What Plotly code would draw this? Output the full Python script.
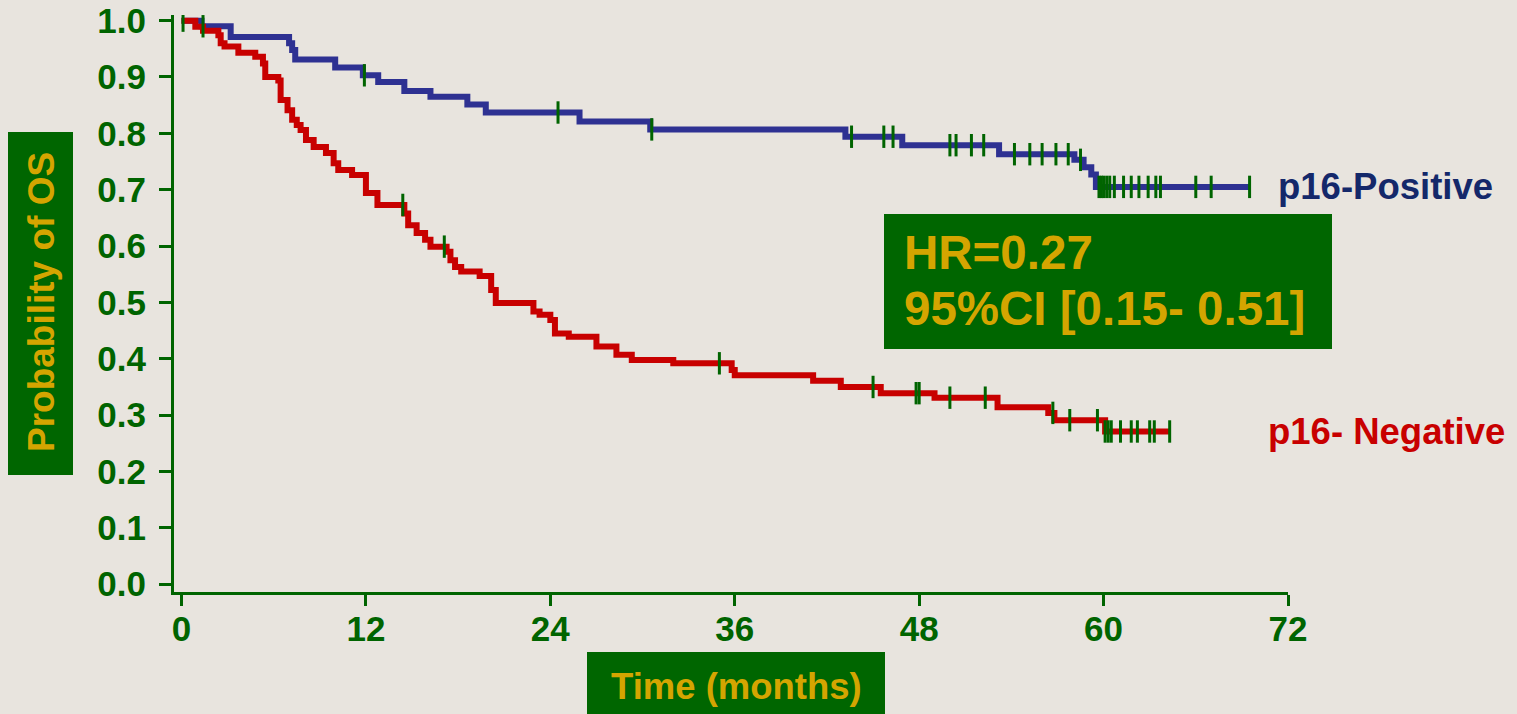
import plotly.graph_objects as go

# ---------------- data ----------------
pos_times = [0, 1.3, 3.2, 7.0, 7.2, 7.4, 10.0, 11.8, 12.8, 14.5, 16.2, 18.6, 19.8,
             25.9, 30.5, 43.2, 46.9, 53.2, 58.1, 58.7, 59.2, 59.5, 69.5]
pos_surv = [1.0, 0.990, 0.971, 0.960, 0.948, 0.931, 0.917, 0.903, 0.891, 0.875, 0.865,
            0.851, 0.837, 0.821, 0.807, 0.794, 0.779, 0.763, 0.753, 0.740, 0.727, 0.705, 0.705]
pos_censor = [0.1, 1.4, 11.9, 24.5, 30.6, 43.6, 45.7, 46.3, 50.0, 50.4, 51.4, 52.2,
              54.2, 55.2, 56.0, 56.9, 57.7, 58.5, 59.7, 59.85, 60.0, 60.2, 60.4, 60.7,
              61.3, 61.8, 62.3, 62.9, 63.4, 63.7, 66.0, 67.0, 69.5]

neg_times = [0, 0.9, 1.4, 2.4, 2.55, 2.8, 3.7, 4.8, 5.3, 5.45, 6.3, 6.45, 6.9, 7.2, 7.5,
             7.75, 8.1, 8.6, 9.4, 9.9, 10.2, 11.1, 12.0, 12.75, 14.5, 14.75, 15.3, 15.85,
             16.2, 17.25, 17.5, 17.8, 18.2, 19.4, 20.15, 20.45, 22.9, 23.3, 24.0, 24.3,
             25.2, 27.0, 28.3, 29.3, 32.0, 35.8, 36.0, 41.1, 42.9, 45.5, 49.0, 53.1,
             56.4, 56.8, 60.1, 64.3]
neg_surv = [1.0, 0.989, 0.982, 0.974, 0.960, 0.954, 0.943, 0.936, 0.924, 0.900, 0.894,
            0.859, 0.841, 0.824, 0.815, 0.806, 0.788, 0.776, 0.765, 0.747, 0.735, 0.726,
            0.694, 0.673, 0.658, 0.637, 0.623, 0.611, 0.599, 0.590, 0.575, 0.563, 0.555,
            0.547, 0.522, 0.499, 0.484, 0.478, 0.469, 0.445, 0.439, 0.422, 0.407, 0.398,
            0.392, 0.380, 0.371, 0.361, 0.350, 0.339, 0.331, 0.314, 0.304, 0.291, 0.271,
            0.271]
neg_censor = [14.4, 17.1, 35.0, 45.0, 47.8, 48.0, 50.0, 52.3, 56.7, 57.8, 59.6, 60.1,
              60.3, 60.5, 61.1, 61.8, 62.2, 63.0, 63.3, 64.3]

x_ticks = [0, 12, 24, 36, 48, 60, 72]
y_ticks = [0.0, 0.1, 0.2, 0.3, 0.4, 0.5, 0.6, 0.7, 0.8, 0.9, 1.0]
y_tick_text = ["0.0", "0.1", "0.2", "0.3", "0.4", "0.5", "0.6", "0.7", "0.8", "0.9", "1.0"]

label_pos = "p16-Positive"
label_neg = "p16- Negative"
hr_line1 = "HR=0.27"
hr_line2 = "95%CI [0.15- 0.51]"
x_title = "Time (months)"
y_title = "Probability of OS"


def surv_at(times, surv, t):
    s = surv[0]
    for ti, si in zip(times, surv):
        if ti <= t:
            s = si
        else:
            break
    return s


# ---------------- style ----------------
W, H = 1517, 714
L, R, T, B = 174, 229, 15, 122
PW, PH = W - L - R, H - T - B
GREEN = "#006400"
BOXGREEN = "#006600"
GOLD = "#d4a500"
BLUE = "#2e3192"
RED = "#c80000"
FONT = "Liberation Sans"


def fx(px):
    return (px - L) / PW


def fy(py):
    return (H - B - py) / PH


fig = go.Figure()

fig.add_trace(go.Scatter(x=pos_times, y=pos_surv, mode="lines",
                         line=dict(color=BLUE, width=6, shape="hv"),
                         hoverinfo="skip", showlegend=False))
fig.add_trace(go.Scatter(x=neg_times, y=neg_surv, mode="lines",
                         line=dict(color=RED, width=6, shape="hv"),
                         hoverinfo="skip", showlegend=False))
fig.add_trace(go.Scatter(x=pos_censor, y=[surv_at(pos_times, pos_surv, t) for t in pos_censor],
                         mode="markers",
                         marker=dict(symbol="line-ns", size=16,
                                     line=dict(color=GREEN, width=3)),
                         hoverinfo="skip", showlegend=False))
fig.add_trace(go.Scatter(x=neg_censor, y=[surv_at(neg_times, neg_surv, t) for t in neg_censor],
                         mode="markers",
                         marker=dict(symbol="line-ns", size=16,
                                     line=dict(color=GREEN, width=3)),
                         hoverinfo="skip", showlegend=False))

shapes = [
    # y title box
    dict(type="rect", xref="paper", yref="paper", x0=fx(8), x1=fx(73), y0=fy(475), y1=fy(132),
         fillcolor=BOXGREEN, line=dict(width=0), layer="below"),
    # x title box
    dict(type="rect", xref="paper", yref="paper", x0=fx(587), x1=fx(885), y0=fy(716), y1=fy(652),
         fillcolor=BOXGREEN, line=dict(width=0), layer="below"),
    # HR box
    dict(type="rect", xref="paper", yref="paper", x0=fx(884), x1=fx(1332), y0=fy(349), y1=fy(214),
         fillcolor=BOXGREEN, line=dict(width=0), layer="above"),
]

annotations = [
    dict(text=y_title, xref="paper", yref="paper", x=fx(41), y=fy(302), textangle=-90,
         showarrow=False, xanchor="center", yanchor="middle",
         font=dict(family=FONT, size=37, color=GOLD, weight="bold")),
    dict(text=x_title, xref="paper", yref="paper", x=fx(736), y=fy(686),
         showarrow=False, xanchor="center", yanchor="middle",
         font=dict(family=FONT, size=36.5, color=GOLD, weight="bold")),
    dict(text=hr_line1, xref="paper", yref="paper", x=fx(902), y=fy(253),
         showarrow=False, xanchor="left", yanchor="middle",
         font=dict(family=FONT, size=47.5, color=GOLD, weight="bold")),
    dict(text=hr_line2, xref="paper", yref="paper", x=fx(902), y=fy(309),
         showarrow=False, xanchor="left", yanchor="middle",
         font=dict(family=FONT, size=47.5, color=GOLD, weight="bold")),
    dict(text=label_pos, xref="paper", yref="paper", x=fx(1276), y=fy(186),
         showarrow=False, xanchor="left", yanchor="middle",
         font=dict(family=FONT, size=36.5, color="#14286a", weight="bold")),
    dict(text=label_neg, xref="paper", yref="paper", x=fx(1266), y=fy(431),
         showarrow=False, xanchor="left", yanchor="middle",
         font=dict(family=FONT, size=36.5, color=RED, weight="bold")),
]

fig.update_layout(
    width=W, height=H,
    margin=dict(l=L, r=R, t=T, b=B, pad=0, autoexpand=False),
    paper_bgcolor="#e8e4de",
    plot_bgcolor="rgba(0,0,0,0)",
    shapes=shapes,
    annotations=annotations,
    showlegend=False,
    xaxis=dict(range=[-0.488, 72.0], tickvals=x_ticks, ticktext=[str(v) for v in x_ticks],
               showline=True, linecolor=GREEN, linewidth=3, ticks="outside", ticklen=11,
               tickwidth=3, tickcolor=GREEN, showgrid=False, zeroline=False,
               automargin=False, ticklabelstandoff=-7,
               tickfont=dict(family=FONT, size=35, color=GREEN, weight="bold")),
    yaxis=dict(range=[-0.0138, 1.01], tickvals=y_ticks, ticktext=y_tick_text,
               showline=True, linecolor=GREEN, linewidth=3, ticks="outside", ticklen=12,
               tickwidth=3, tickcolor=GREEN, showgrid=False, zeroline=False,
               automargin=False, ticklabelstandoff=6,
               tickfont=dict(family=FONT, size=35, color=GREEN, weight="bold")),
)

fig.write_html("out.html")
